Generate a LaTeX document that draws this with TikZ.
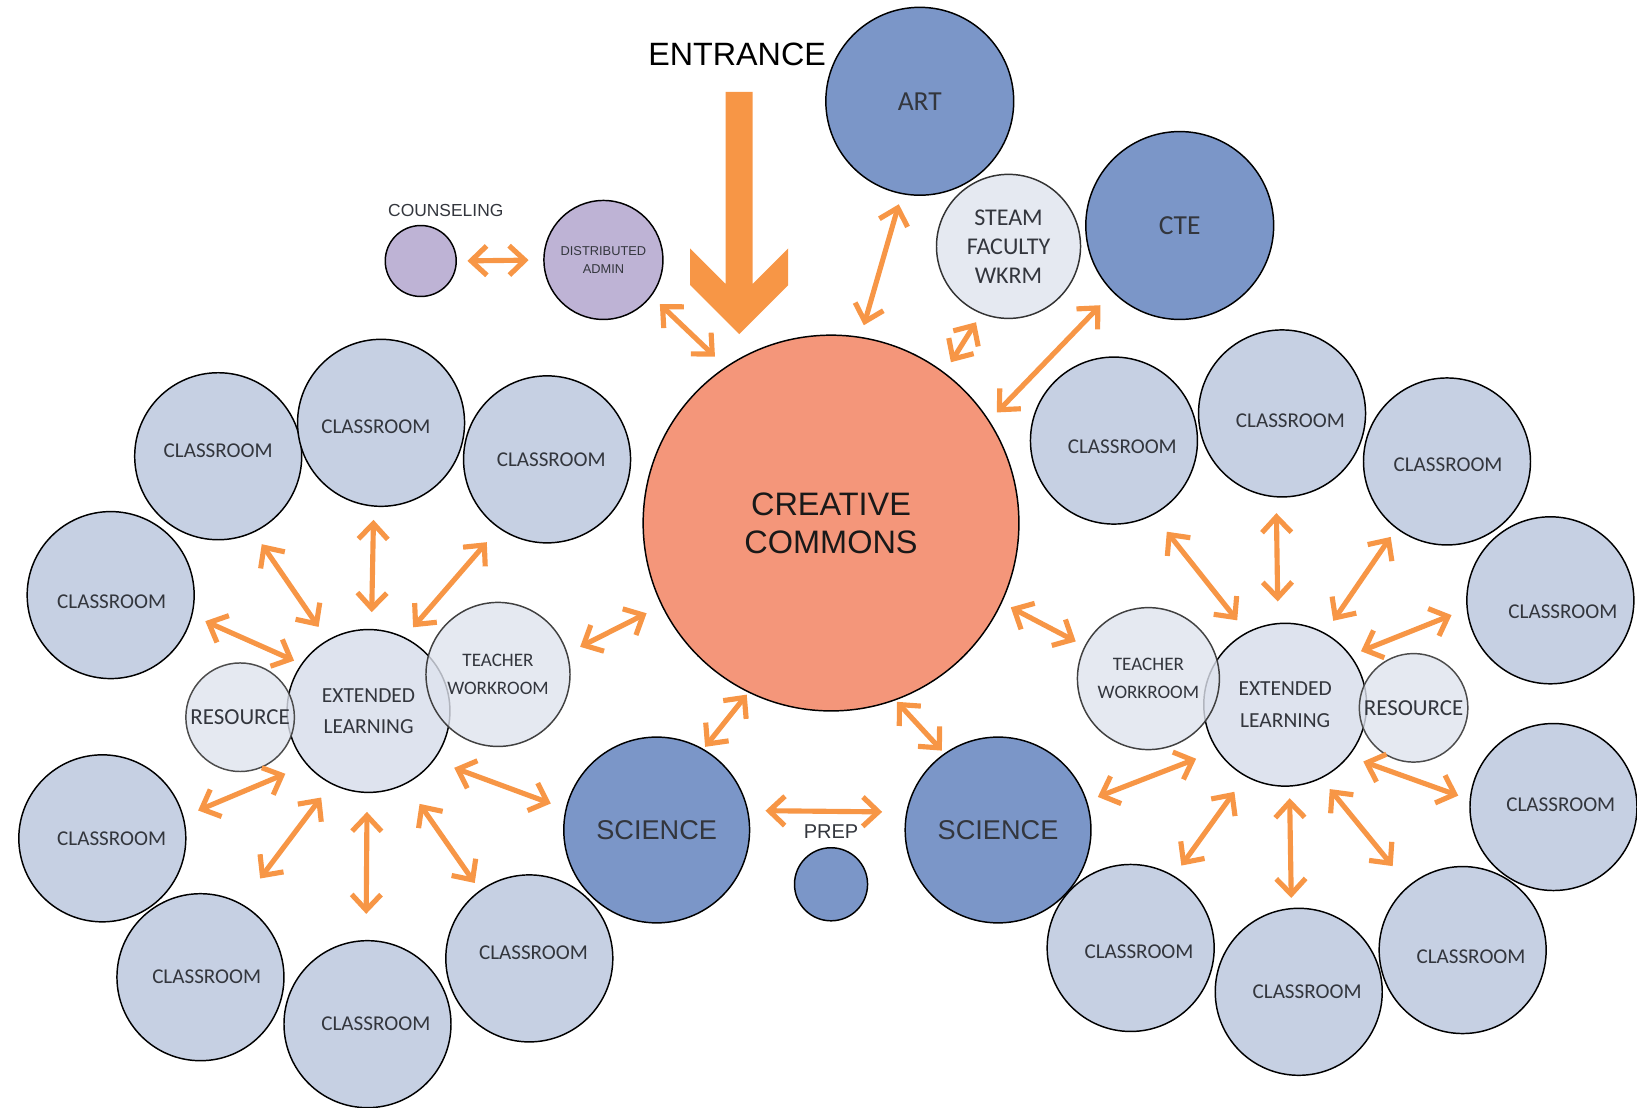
\documentclass[tikz,border=0pt]{standalone}
\usepackage{fontspec}
\usepackage{tikz}
\usetikzlibrary{arrows.meta}
\newfontfamily\calfont{Carlito}
\newfontfamily\arialfont{Liberation Sans}

\definecolor{roomfill}{HTML}{C6D0E3}
\definecolor{lightfill}{HTML}{DEE3EE}
\definecolor{deepblue}{HTML}{7B96C8}
\definecolor{lilac}{HTML}{BEB3D5}
\definecolor{commons}{HTML}{F4967A}
\definecolor{arrowor}{HTML}{F79646}
\definecolor{txtgray}{HTML}{33363D}

\tikzset{
  bubble/.style={circle, draw=black, line width=0.8pt, inner sep=0pt, align=center, text=txtgray},
  room/.style 2 args={bubble, fill=roomfill, minimum size=3.2cm,
    label={[font=\calfont\fontsize{11.5}{13}\selectfont, text=txtgray, shift={(#1,#2)}]center:CLASSROOM}},
  light/.style={bubble, fill=lightfill, fill opacity=0.8, text opacity=1},
  deep/.style={bubble, fill=deepblue},
  link/.style={<->, >={Straight Barb[length=8.5pt,width=16pt]}, draw=arrowor, line width=2.8pt}
}

\begin{document}
\begin{tikzpicture}[x=0.02cm, y=-0.02cm]
    \useasboundingbox (0,0) rectangle (1568,1061);

    % entrance
    \node[font=\arialfont\fontsize{17.6}{20}\selectfont] (entr) at (706,52) {ENTRANCE};
    \fill[arrowor] (695,88) -- (721,88) -- (721,272) -- (755,238) -- (755,273) -- (708,320)
        -- (661,273) -- (661,238) -- (695,272) -- cycle;

    % top rooms
    \node[deep, minimum size=3.6cm, font=\calfont\fontsize{15}{17}\selectfont] (art) at (881,97) {ART};
    \node[light, draw=black!80, minimum size=2.76cm, font=\calfont\fontsize{13.1}{15.9}\selectfont] (steam) at (966,236) {STEAM\\FACULTY\\WKRM};
    \node[deep, minimum size=3.6cm, font=\calfont\fontsize{15}{17}\selectfont] (cte) at (1130,216) {CTE};
    \node[bubble, fill=lilac, minimum size=1.36cm] (couns) at (403,250) {};
    \node[text=txtgray, font=\arialfont\fontsize{9.5}{11}\selectfont] (counslbl) at (427,202) {COUNSELING};
    \node[bubble, fill=lilac, minimum size=2.28cm, font=\arialfont\fontsize{7}{9.7}\selectfont] (dist) at (578,249) {DISTRIBUTED\\ADMIN};

    % creative commons
    \node[bubble, fill=commons, minimum size=7.2cm, text=black!90, font=\arialfont\fontsize{17.7}{20.5}\selectfont] (cc) at (796,501) {CREATIVE\\COMMONS};

    % left cluster
    \node[room={0}{-5}] (cl1) at (209,437) {};
    \node[room={-5}{4}] (cl2) at (365,405) {};
    \node[room={4}{0}] (cl3) at (524,440) {};
    \node[room={1}{6}] (cl4) at (106,570) {};
    \node[room={9}{0}] (cl5) at (98,803) {};
    \node[room={6}{0}] (cl6) at (192,936) {};
    \node[room={8}{0}] (cl7) at (352,981) {};
    \node[room={4}{-5}] (cl8) at (507,918) {};
    \node[light, minimum size=3.12cm, fill opacity=1, font=\calfont\fontsize{11.7}{17}\selectfont] (elL) at (353,681) {EXTENDED\\LEARNING};
    \node[light, draw=black!70, minimum size=2.08cm, font=\calfont\fontsize{12.5}{14}\selectfont] (resL) at (230,687) {RESOURCE};
    \node[light, draw=black!75, minimum size=2.76cm, font=\calfont\fontsize{10.4}{15.4}\selectfont] (twL) at (477,646) {TEACHER\\WORKROOM};

    % science + prep
    \node[deep, minimum size=3.56cm, font=\arialfont\fontsize{14.8}{17}\selectfont] (sciL) at (629,795) {SCIENCE};
    \node[deep, minimum size=3.56cm, font=\arialfont\fontsize{14.8}{17}\selectfont] (sciR) at (956,795) {SCIENCE};
    \node[deep, minimum size=1.4cm] (prep) at (796,847) {};
    \node[text=txtgray, font=\arialfont\fontsize{10.9}{12}\selectfont] (preplbl) at (796,797) {PREP};

    % right cluster
    \node[room={8}{6}] (cr1) at (1067,422) {};
    \node[room={8}{7}] (cr2) at (1228,396) {};
    \node[room={1}{3}] (cr3) at (1386,442) {};
    \node[room={12}{11}] (cr4) at (1485,575) {};
    \node[room={7}{-2}] (cr5) at (1488,773) {};
    \node[room={8}{6}] (cr6) at (1401,910) {};
    \node[room={8}{0}] (cr7) at (1244,950) {};
    \node[room={8}{4}] (cr8) at (1083,908) {};
    \node[light, minimum size=3.12cm, fill opacity=1, font=\calfont\fontsize{11.7}{17}\selectfont] (elR) at (1231,675) {EXTENDED\\LEARNING};
    \node[light, draw=black!75, minimum size=2.72cm, font=\calfont\fontsize{10.4}{15.4}\selectfont] (twR) at (1100,650) {TEACHER\\WORKROOM};
    \node[light, draw=black!70, minimum size=2.08cm, font=\calfont\fontsize{12.5}{14}\selectfont] (resR) at (1354,678) {RESOURCE};

    % links around the commons
    \draw[link, shorten <=2.0mm, shorten >=2.8mm] (couns.0) -- (dist.180);
    \draw[link, shorten <=2.2mm, shorten >=2.8mm] (dist.-37) -- (cc.124);
    \draw[link, shorten <=2.0mm, shorten >=2.3mm] (art.-101) -- (cc.81);
    \draw[link, shorten <=1.9mm, shorten >=2.3mm] (steam.-112) -- (cc.53);
    \draw[link, shorten <=3.4mm, shorten >=2.1mm] (cte.-135) -- (cc.33);
    \draw[link, shorten <=3.2mm, shorten >=2.7mm] (cc.-154) -- (twL.17);
    \draw[link, shorten <=0.5mm, shorten >=0.5mm] (cc.-116) -- (sciL.60);
    \draw[link, shorten <=0.4mm, shorten >=0.7mm] (cc.-70) -- (sciR.125);
    \draw[link, shorten <=1.9mm, shorten >=1.9mm] (cc.-25) -- (twR.153);
    \draw[link, shorten <=3.3mm, shorten >=4.6mm] (sciL.12) -- (sciR.169);

    % links of the left cluster
    \foreach \a/\b/\c/\s/\t in {120/cl1/-65/3.0/2.7, 88/cl2/-95/3.2/2.5, 64/cl3/-125/2.5/3.5,
        145/cl4/-14/1.5/2.7, -139/cl5/15/4.4/3.0, -117/cl6/61/3.2/6.0, -91/cl7/91/3.6/5.0,
        -63/cl8/126/4.6/1.7, -37/sciL/167/4.1/3.0}
        \draw[link, shorten <=\s mm, shorten >=\t mm] (elL.\a) -- (\b.\c);

    % links of the right cluster
    \foreach \a/\b/\c/\s/\t in {118/cr1/-62/2.9/4.1, 95/cr2/-94/4.1/3.0, 61/cr3/-127/2.8/1.9,
        37/cr4/186/2.1/3.1, -39/cr5/175/2.9/2.3, -64/cr6/130/2.6/4.8, -87/cr7/95/2.2/1.9,
        -119/cr8/59/3.6/2.4, -146/sciR/18/4.3/2.2}
        \draw[link, shorten <=\s mm, shorten >=\t mm] (elR.\a) -- (\b.\c);
\end{tikzpicture}
\end{document}
